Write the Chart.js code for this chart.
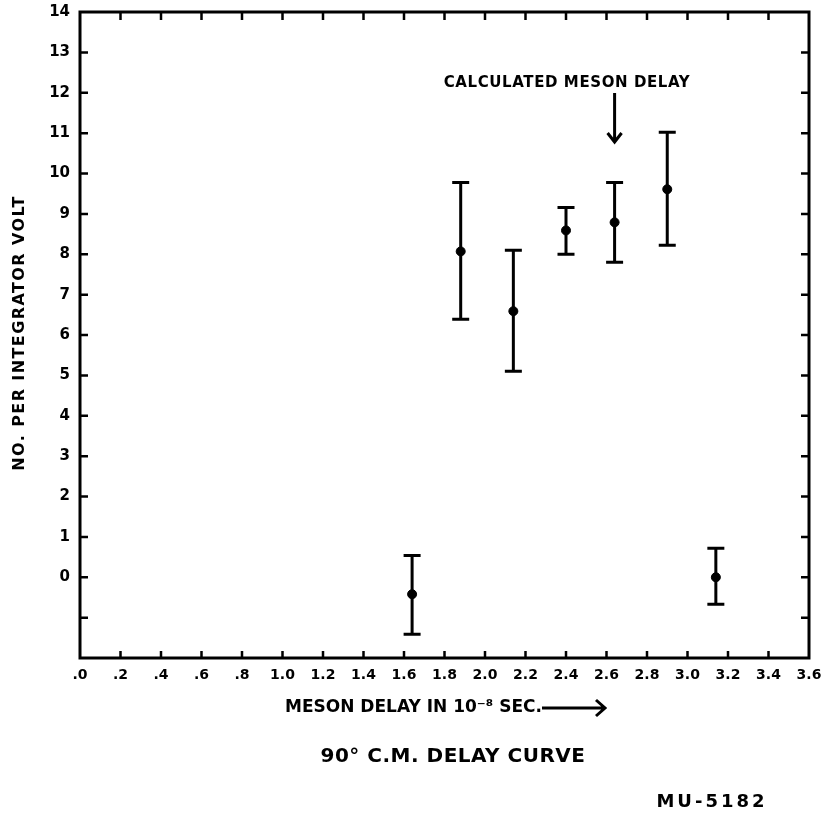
<!DOCTYPE html>
<html>
<head>
<meta charset="utf-8">
<script src="https://cdn.jsdelivr.net/npm/chart.js@4"></script>
<style>
  body { margin: 0; background: #fff; }
  #wrap { width: 828px; height: 822px; }
</style>
</head>
<body>
<div id="wrap"><canvas id="delayChart" width="828" height="822"></canvas></div>
<script>
// data
const xVals = [1.64, 1.88, 2.14, 2.40, 2.64, 2.90, 3.14];
const yVals = [-0.42, 8.07, 6.59, 8.59, 8.79, 9.61, 0.0];
const errHigh = [0.54, 9.78, 8.10, 9.16, 9.78, 11.02, 0.72];
const errLow = [-1.41, 6.39, 5.10, 8.00, 7.80, 8.22, -0.67];
const xTickLabels = ['.0', '.2', '.4', '.6', '.8', '1.0', '1.2', '1.4', '1.6', '1.8',
                     '2.0', '2.2', '2.4', '2.6', '2.8', '3.0', '3.2', '3.4', '3.6'];
const yTickLabels = ['', '', '0', '1', '2', '3', '4', '5', '6', '7', '8', '9', '10', '11', '12', '13', '14'];
const calcDelay = 2.64;

const FONT = 'DejaVu Sans';

const points = xVals.map((x, i) => ({ x: x, y: yVals[i] }));

function spaced(ctx, px) {
  if ('letterSpacing' in ctx) ctx.letterSpacing = px + 'px';
}

const framePlugin = {
  id: 'frame',
  afterDatasetsDraw(chart) {
    const ctx = chart.ctx;
    const a = chart.chartArea;
    const xs = chart.scales.x, ys = chart.scales.y;
    ctx.save();
    ctx.strokeStyle = '#000';
    ctx.fillStyle = '#000';

    // error bars
    ctx.lineWidth = 3;
    xVals.forEach((x, i) => {
      const px = xs.getPixelForValue(x);
      const top = ys.getPixelForValue(errHigh[i]);
      const bot = ys.getPixelForValue(errLow[i]);
      ctx.beginPath();
      ctx.moveTo(px, top); ctx.lineTo(px, bot);
      ctx.moveTo(px - 8.5, top); ctx.lineTo(px + 8.5, top);
      ctx.moveTo(px - 8.5, bot); ctx.lineTo(px + 8.5, bot);
      ctx.stroke();
    });

    // frame
    ctx.lineWidth = 3;
    ctx.strokeRect(a.left, a.top, a.right - a.left, a.bottom - a.top);

    // inward ticks
    ctx.lineWidth = 2.5;
    ctx.beginPath();
    for (let i = 1; i < xTickLabels.length - 1; i++) {
      const px = xs.getPixelForValue(i * 0.2);
      ctx.moveTo(px, a.bottom); ctx.lineTo(px, a.bottom - 7);
      ctx.moveTo(px, a.top); ctx.lineTo(px, a.top + 8);
    }
    for (let v = -1; v < 14; v++) {
      const py = ys.getPixelForValue(v);
      ctx.moveTo(a.left, py); ctx.lineTo(a.left + 8, py);
      ctx.moveTo(a.right, py); ctx.lineTo(a.right - 8, py);
    }
    ctx.stroke();

    // calculated meson delay annotation
    const ax = xs.getPixelForValue(calcDelay);
    ctx.font = 'bold 15px ' + FONT;
    spaced(ctx, 0.6);
    ctx.textAlign = 'center';
    ctx.textBaseline = 'middle';
    ctx.fillText('CALCULATED MESON DELAY', 567, 83);
    ctx.lineWidth = 3;
    ctx.beginPath();
    ctx.moveTo(ax, 93); ctx.lineTo(ax, 141);
    ctx.moveTo(ax - 7, 133); ctx.lineTo(ax, 142); ctx.lineTo(ax + 7, 133);
    ctx.stroke();

    // y axis title
    ctx.save();
    ctx.translate(20, 333);
    ctx.rotate(-Math.PI / 2);
    ctx.font = 'bold 16px ' + FONT;
    spaced(ctx, 1.4);
    ctx.fillText('NO. PER INTEGRATOR VOLT', 0, 0);
    ctx.restore();

    // x axis title with arrow
    ctx.textAlign = 'left';
    ctx.font = 'bold 17px ' + FONT;
    spaced(ctx, 0);
    ctx.fillText('MESON DELAY IN 10\u207B\u2078 SEC.', 285, 708);
    ctx.lineWidth = 3;
    ctx.beginPath();
    ctx.moveTo(542, 708); ctx.lineTo(604, 708);
    ctx.moveTo(596, 700); ctx.lineTo(605, 708); ctx.lineTo(596, 716);
    ctx.stroke();

    ctx.textAlign = 'center';
    ctx.font = 'bold 20px ' + FONT;
    spaced(ctx, 0.5);
    ctx.fillText('90\u00B0 C.M. DELAY CURVE', 453, 757);
    ctx.font = 'bold 18px ' + FONT;
    spaced(ctx, 3);
    ctx.fillText('MU-5182', 712, 802);
    ctx.restore();
  }
};

new Chart(document.getElementById('delayChart'), {
  type: 'scatter',
  data: {
    datasets: [{
      label: 'delay',
      data: points,
      backgroundColor: '#000',
      borderColor: '#000',
      pointRadius: 4.5,
      pointHoverRadius: 4.5
    }]
  },
  options: {
    responsive: false,
    animation: false,
    layout: { padding: { top: 12, right: 19, left: 0, bottom: 0 } },
    plugins: { legend: { display: false }, tooltip: { enabled: false } },
    scales: {
      x: {
        type: 'linear',
        min: 0, max: 3.6,
        afterFit: (s) => { s.height = 164; s.paddingLeft = 0; s.paddingRight = 0; },
        grid: { display: false, drawTicks: false },
        border: { display: false },
        ticks: {
          stepSize: 0.2,
          autoSkip: false,
          maxRotation: 0,
          padding: 9,
          color: '#000',
          font: { family: FONT, size: 14, weight: 'bold' },
          callback: (v) => xTickLabels[Math.round(v * 5)]
        }
      },
      y: {
        min: -2, max: 14,
        afterFit: (s) => { s.width = 80; s.paddingTop = 0; s.paddingBottom = 0; },
        grid: { display: false, drawTicks: false },
        border: { display: false },
        ticks: {
          stepSize: 1,
          autoSkip: false,
          padding: 10,
          color: '#000',
          font: { family: FONT, size: 15, weight: 'bold' },
          callback: (v) => yTickLabels[Math.round(v) + 2]
        }
      }
    }
  },
  plugins: [framePlugin]
});
</script>
</body>
</html>
